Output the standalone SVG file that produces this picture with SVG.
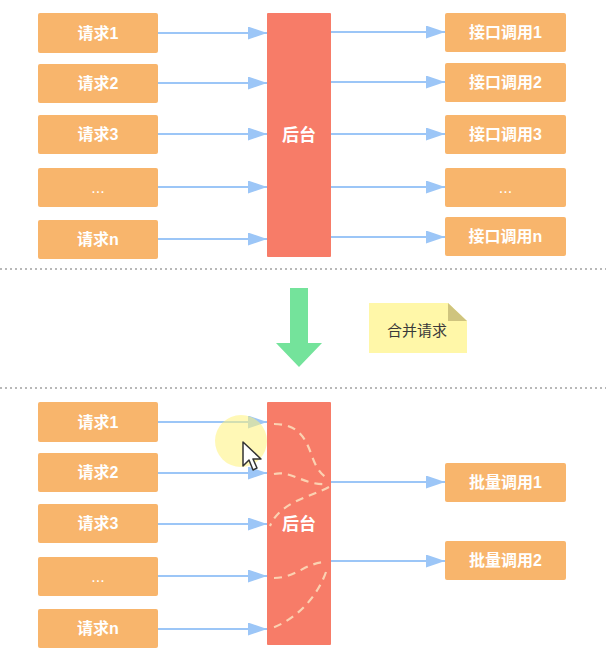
<svg xmlns="http://www.w3.org/2000/svg" width="616" height="664" viewBox="0 0 616 664">
<defs>
<marker id="ah" markerWidth="19" markerHeight="13" refX="19" refY="6.5" orient="auto" markerUnits="userSpaceOnUse">
<path d="M0,0 L19,6.5 L0,13 Z" fill="#9CC6F7"/>
</marker>
<style>
.box{fill:#F8B56C;}
.be{fill:#F77C68;}
.lbl{font-family:"Liberation Sans","Noto Sans CJK SC",sans-serif;font-size:16px;font-weight:600;fill:#fff;text-anchor:middle;dominant-baseline:central;}
.lbl.dots{font-weight:normal;}
.bel{font-family:"Liberation Sans","Noto Sans CJK SC",sans-serif;font-size:17px;font-weight:600;fill:#fff;text-anchor:middle;dominant-baseline:central;}
.con{stroke:#9CC6F7;stroke-width:2;fill:none;marker-end:url(#ah);}
.dash{stroke:#FBD2B2;stroke-width:2.2;fill:none;stroke-dasharray:8 6;}
.sep{stroke:#B8B8B8;stroke-width:2;stroke-dasharray:2 3;}
</style>
</defs>
<rect width="616" height="664" fill="#fff"/>

<g id="separators">
<line class="sep" x1="0" y1="269" x2="606" y2="269"/>
<line class="sep" x1="0" y1="388" x2="606" y2="388"/>
</g>

<!-- top section -->
<g id="req1"><rect class="box" x="38" y="13" width="120" height="40" rx="2"/><text class="lbl" x="98" y="33">请求1</text></g>
<g id="req2"><rect class="box" x="38" y="64" width="120" height="39" rx="2"/><text class="lbl" x="98" y="83.5">请求2</text></g>
<g id="req3"><rect class="box" x="38" y="115" width="120" height="39" rx="2"/><text class="lbl" x="98" y="134.5">请求3</text></g>
<g id="req4"><rect class="box" x="38" y="168" width="120" height="39" rx="2"/><text class="lbl dots" x="98" y="187.5">...</text></g>
<g id="reqn"><rect class="box" x="38" y="220" width="120" height="39" rx="2"/><text class="lbl" x="98" y="239.5">请求n</text></g>

<g id="backend1"><rect class="be" x="267" y="13" width="64" height="244" rx="1"/><text class="bel" x="299" y="135">后台</text></g>

<g id="api1"><rect class="box" x="445" y="13" width="121" height="39" rx="2"/><text class="lbl" x="505.5" y="32.5">接口调用1</text></g>
<g id="api2"><rect class="box" x="445" y="63" width="121" height="39" rx="2"/><text class="lbl" x="505.5" y="82.5">接口调用2</text></g>
<g id="api3"><rect class="box" x="445" y="115" width="121" height="39" rx="2"/><text class="lbl" x="505.5" y="134.5">接口调用3</text></g>
<g id="api4"><rect class="box" x="445" y="168" width="121" height="39" rx="2"/><text class="lbl dots" x="505.5" y="187.5">...</text></g>
<g id="apin"><rect class="box" x="445" y="217" width="121" height="39" rx="2"/><text class="lbl" x="505.5" y="236.5">接口调用n</text></g>

<!-- middle -->
<g id="downarrow"><path d="M290,288 H308 V343 H322 L299,367 L276,343 H290 Z" fill="#74E39B"/></g>
<g id="note">
<path d="M369,303 H448 L467,321 V353 H369 Z" fill="#FFF7A8"/>
<path d="M448,303 L467,321 H448 Z" fill="#CFC47E"/>
<text x="417" y="330" font-family="Liberation Sans,'Noto Sans CJK SC',sans-serif" font-size="15" fill="#3a3a3a" text-anchor="middle" dominant-baseline="central">合并请求</text>
</g>

<!-- bottom section -->
<g id="breq1"><rect class="box" x="38" y="402" width="120" height="40" rx="2"/><text class="lbl" x="98" y="422">请求1</text></g>
<g id="breq2"><rect class="box" x="38" y="453" width="120" height="39" rx="2"/><text class="lbl" x="98" y="472.5">请求2</text></g>
<g id="breq3"><rect class="box" x="38" y="504" width="120" height="39" rx="2"/><text class="lbl" x="98" y="523.5">请求3</text></g>
<g id="breq4"><rect class="box" x="38" y="557" width="120" height="39" rx="2"/><text class="lbl dots" x="98" y="576.5">...</text></g>
<g id="breqn"><rect class="box" x="38" y="609" width="120" height="39" rx="2"/><text class="lbl" x="98" y="628.5">请求n</text></g>

<g id="backend2"><rect class="be" x="267" y="402" width="64" height="243" rx="1"/><text class="bel" x="299" y="524">后台</text>
<path class="dash" d="M274,424 C300,424 306,440 312,456 C316,468 322,476 329,479"/>
<path class="dash" d="M274,474 C292,470 304,486 328,484"/>
<path class="dash" d="M329,487 C310,497 280,502 270,526"/>
<path class="dash" d="M274,578 C296,578 306,562 327,562"/>
<path class="dash" d="M326,572 C316,600 294,620 272,628"/>
</g>

<g id="batch1"><rect class="box" x="445" y="463" width="121" height="39" rx="2"/><text class="lbl" x="505.5" y="482.5">批量调用1</text></g>
<g id="batch2"><rect class="box" x="445" y="541" width="121" height="39" rx="2"/><text class="lbl" x="505.5" y="560.5">批量调用2</text></g>

<g id="connectors">
<line class="con" x1="158" y1="33" x2="267" y2="33"/>
<line class="con" x1="158" y1="83" x2="267" y2="83"/>
<line class="con" x1="158" y1="134" x2="267" y2="134"/>
<line class="con" x1="158" y1="187" x2="267" y2="187"/>
<line class="con" x1="158" y1="239" x2="267" y2="239"/>
<line class="con" x1="331" y1="32" x2="445" y2="32"/>
<line class="con" x1="331" y1="82" x2="445" y2="82"/>
<line class="con" x1="331" y1="134" x2="445" y2="134"/>
<line class="con" x1="331" y1="187" x2="445" y2="187"/>
<line class="con" x1="331" y1="237" x2="445" y2="237"/>
<line class="con" x1="158" y1="422" x2="267" y2="422"/>
<line class="con" x1="158" y1="473" x2="267" y2="473"/>
<line class="con" x1="158" y1="524" x2="267" y2="524"/>
<line class="con" x1="158" y1="576" x2="267" y2="576"/>
<line class="con" x1="158" y1="629" x2="267" y2="629"/>
<line class="con" x1="331" y1="482" x2="445" y2="482"/>
<line class="con" x1="331" y1="561" x2="445" y2="561"/>
</g>

<g id="pointer">
<circle cx="241" cy="441" r="26" fill="#FFF37A" fill-opacity="0.55"/>
<path d="M243,442 L243,466 L249,460 L253,470 L257,468 L253,459 L261,459 Z" fill="#fff" stroke="#333" stroke-width="1.5" stroke-linejoin="round"/>
</g>
</svg>
